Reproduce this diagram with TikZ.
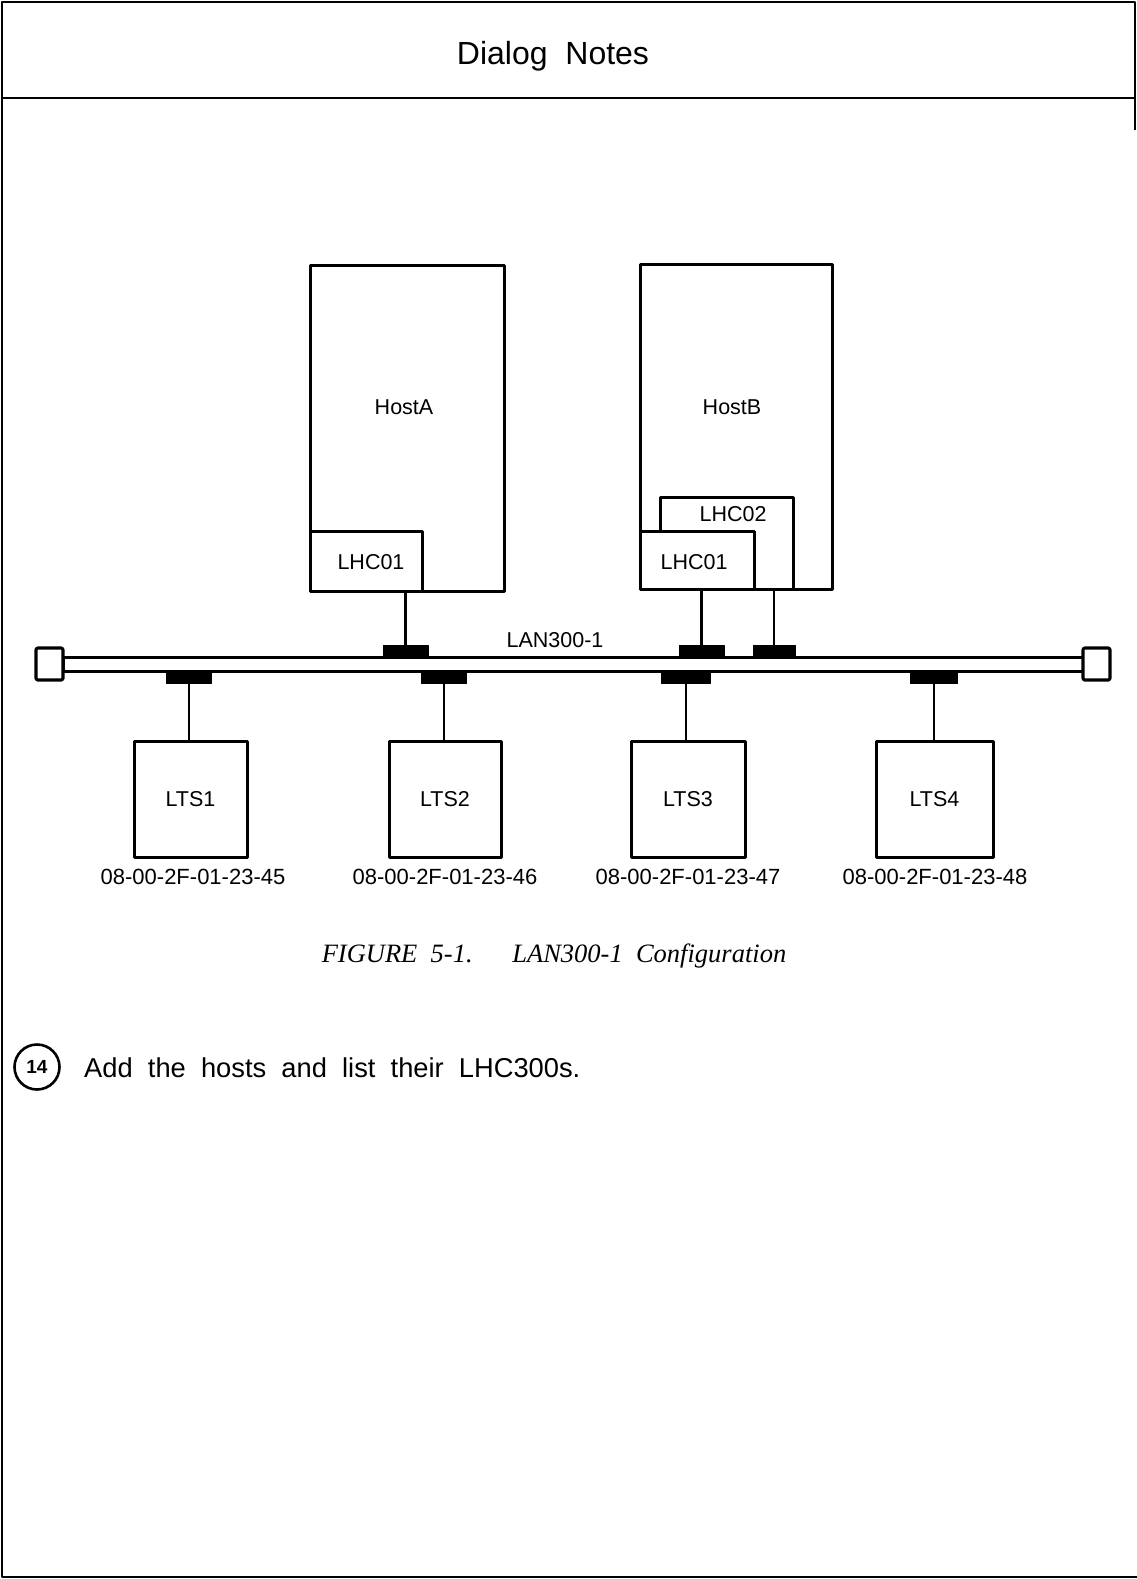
\documentclass[tikz,border=0pt]{standalone}
\usepackage{fontspec}
\setmainfont{Liberation Sans}
\newfontfamily\capfont{Liberation Serif}
\begin{document}
\begin{tikzpicture}[x=1pt,y=-1pt,line join=round,
  frame/.style={draw,line width=2.2pt},
  box/.style={draw,line width=3pt,rectangle,inner sep=0pt,fill=white},
  tap/.style={fill=black,draw=black,line width=0.6pt,inner sep=0pt,minimum width=45pt,minimum height=12pt},
  wire/.style={line width=2.8pt},
  lbl/.style={font=\fontsize{21.5}{26}\selectfont,inner sep=0pt},
  addr/.style={font=\fontsize{22}{26}\selectfont,inner sep=0pt}]
\useasboundingbox (0,0) rectangle (1137,1579);
% page frame
\draw[frame] (2,98) -- (2,1577) -- (1137,1577);
\draw[frame] (2,2) rectangle (1135,98);
\draw[frame] (1135,98) -- (1135,130);
\node[font=\fontsize{32}{38}\selectfont,inner sep=0pt] (title) at (553,56) {Dialog\ \ Notes};
% hosts
\node[box,minimum width=194pt,minimum height=326pt] (hostA) at (407,428) {};
\node[lbl] (hostAl) at (404,407) {HostA};
\node[box,minimum width=112pt,minimum height=60pt] (lhcA) at (366,561) {};
\node[lbl] (lhcAl) at (371,562) {LHC01};
\node[box,minimum width=192pt,minimum height=325pt] (hostB) at (736,426.5) {};
\node[lbl] (hostBl) at (732,407) {HostB};
\node[box,minimum width=133pt,minimum height=92pt] (lhc2) at (726.5,543) {};
\node[lbl] (lhc2l) at (733,514) {LHC02};
\node[box,minimum width=114pt,minimum height=58pt] (lhc1) at (697,560) {};
\node[lbl] (lhc1l) at (694,562) {LHC01};
% bus
\node[draw,line width=3pt,rectangle,minimum width=1020pt,minimum height=14pt,inner sep=0pt] (bus) at (573,664) {};
\node[draw,line width=3.2pt,rounded corners=2pt,minimum width=27pt,minimum height=32pt,inner sep=0pt,fill=white] (endL) at (49.5,664) {};
\node[draw,line width=3.2pt,rounded corners=2pt,minimum width=27pt,minimum height=32pt,inner sep=0pt,fill=white] (endR) at (1096.5,664) {};
\node[lbl] (lan) at (555,640) {LAN300-1};
% top taps
\node[tap] (tA) at (405.5,651) {};
\node[tap] (tB1) at (701.5,651) {};
\node[tap,minimum width=42pt] (tB2) at (774,651) {};
\draw[wire] (tA.north) -- (tA.north |- hostA.south);
\draw[wire] (tB1.north) -- (tB1.north |- lhc1.south);
\draw[wire] (tB2.north) -- (tB2.north |- lhc2.south);
% bottom taps and terminals
\node[tap] (t1) at (189,677) {};
\node[tap] (t2) at (444,677) {};
\node[tap,minimum width=49pt] (t3) at (686,677) {};
\node[tap,minimum width=47pt] (t4) at (934,677) {};
\node[box,minimum width=113pt,minimum height=116pt] (lts1) at (190.5,799) {};
\node[box,minimum width=112pt,minimum height=116pt] (lts2) at (445,799) {};
\node[box,minimum width=114pt,minimum height=116pt] (lts3) at (688,799) {};
\node[box,minimum width=117pt,minimum height=116pt] (lts4) at (934.5,799) {};
\node[lbl] at (lts1) {LTS1};
\node[lbl] at (lts2) {LTS2};
\node[lbl] at (lts3) {LTS3};
\node[lbl] at (lts4) {LTS4};
\draw[wire] (t1.south) -- (t1.south |- lts1.north);
\draw[wire] (t2.south) -- (t2.south |- lts2.north);
\draw[wire] (t3.south) -- (t3.south |- lts3.north);
\draw[wire] (t4.south) -- (t4.south |- lts4.north);
\node[addr] (a1) at (193,877) {08-00-2F-01-23-45};
\node[addr] (a2) at (445,877) {08-00-2F-01-23-46};
\node[addr] (a3) at (688,877) {08-00-2F-01-23-47};
\node[addr] (a4) at (935,877) {08-00-2F-01-23-48};
% caption
\node[font=\capfont\itshape\fontsize{26.5}{30}\selectfont,inner sep=0pt] (cap) at (554,956) {FIGURE\ \ 5-1.\quad\ \ LAN300-1\ \ Configuration};
% step
\node[draw,circle,line width=2.6pt,minimum size=45pt,inner sep=0pt,font=\bfseries\fontsize{19}{22}\selectfont] (num) at (37,1067) {14};
\node[anchor=west,inner sep=0pt,font=\fontsize{27.3}{31}\selectfont] (step) at (84,1068) {Add\ \ the\ \ hosts\ \ and\ \ list\ \ their\ \ LHC300s.};
\end{tikzpicture}
\end{document}
